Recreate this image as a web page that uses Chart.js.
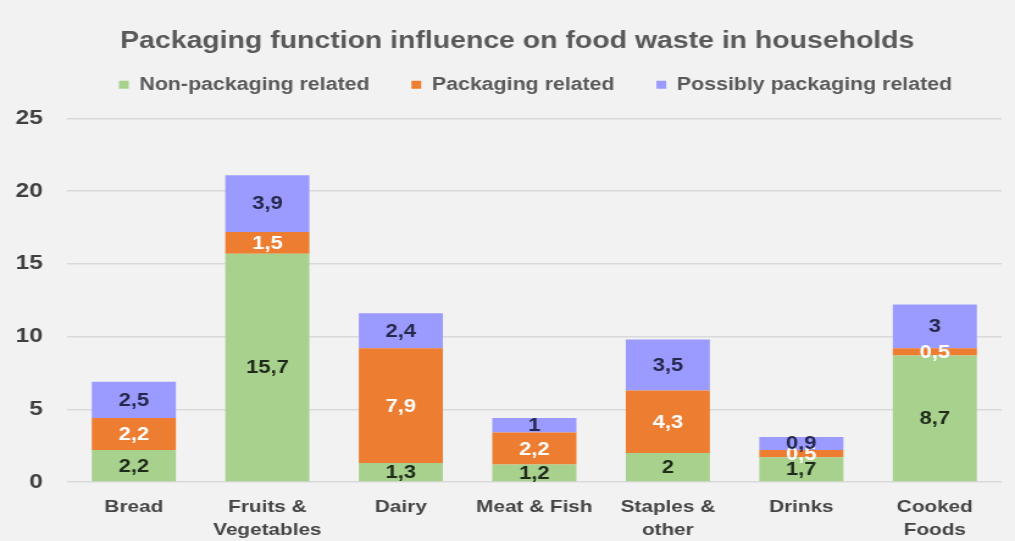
<!DOCTYPE html>
<html>
<head>
<meta charset="utf-8">
<script src="https://cdn.jsdelivr.net/npm/chart.js@4/dist/chart.umd.min.js"></script>
<style>
html,body{margin:0;padding:0;background:#f2f2f2;overflow:hidden;}
#wrap{width:832px;height:541px;transform:scaleX(1.21995);transform-origin:0 0;}
canvas{display:block;}
</style>
</head>
<body>
<div id="wrap"><canvas id="c" width="832" height="541"></canvas></div>
<script>
const categories = [["Bread"], ["Fruits &", "Vegetables"], ["Dairy"], ["Meat & Fish"], ["Staples &", "other"], ["Drinks"], ["Cooked", "Foods"]];
const nonPackaging = [2.2, 15.7, 1.3, 1.2, 2, 1.7, 8.7];
const packaging = [2.2, 1.5, 7.9, 2.2, 4.3, 0.5, 0.5];
const possiblyPackaging = [2.5, 3.9, 2.4, 1, 3.5, 0.9, 3];
const seriesNames = ["Non-packaging related", "Packaging related", "Possibly packaging related"];
const yTicks = [0, 5, 10, 15, 20, 25];

const FONT = "'Liberation Sans', Arial, sans-serif";
const labelColors = ["#1e2a1a", "#ffffff", "#25284a"];

const valueLabels = {
  id: 'valueLabels',
  afterDatasetsDraw(chart) {
    const ctx = chart.ctx;
    ctx.save();
    ctx.font = "bold 18px " + FONT;
    ctx.textAlign = 'center';
    ctx.textBaseline = 'middle';
    chart.data.datasets.forEach((ds, i) => {
      const meta = chart.getDatasetMeta(i);
      meta.data.forEach((el, j) => {
        const v = ds.data[j];
        const y = (el.y + el.base) / 2;
        ctx.fillStyle = labelColors[i];
        ctx.fillText(String(v).replace('.', ','), el.x, y + 1);
      });
    });
    ctx.restore();
  }
};

const headerShift = {
  id: 'headerShift',
  afterLayout(chart) {
    if (chart.titleBlock) { chart.titleBlock.left += 7; chart.titleBlock.right += 7; }
    if (chart.legend) { chart.legend.left += 22; chart.legend.right += 22; }
  }
};

new Chart(document.getElementById('c'), {
  type: 'bar',
  data: {
    labels: categories,
    datasets: [
      { label: seriesNames[0], data: nonPackaging, backgroundColor: '#a9d18e' },
      { label: seriesNames[1], data: packaging, backgroundColor: '#ed7d31' },
      { label: seriesNames[2], data: possiblyPackaging, backgroundColor: '#9b9bff' }
    ]
  },
  options: {
    responsive: false,
    animation: false,
    layout: { padding: { left: 13, right: 11, top: 28, bottom: 0 } },
    datasets: { bar: { categoryPercentage: 1, barPercentage: 0.63 } },
    scales: {
      x: {
        stacked: true,
        grid: { display: false, drawTicks: false },
        border: { display: false },
        ticks: { color: '#454545', font: { family: FONT, size: 17, weight: 'bold', lineHeight: 1.35 }, padding: 13.5, maxRotation: 0 },
        afterFit(axis) { axis.height = 59; }
      },
      y: {
        stacked: true,
        min: 0, max: 25,
        afterBuildTicks(axis) { axis.ticks = yTicks.map(v => ({ value: v })); },
        grid: { color: '#d9d9d9', lineWidth: 1.5, drawTicks: false },
        border: { display: false },
        ticks: { color: '#404040', font: { family: FONT, size: 20, weight: 'bold' }, padding: 20 },
        afterFit(axis) { axis.width = 42; }
      }
    },
    plugins: {
      title: {
        display: true,
        text: 'Packaging function influence on food waste in households',
        color: '#595959',
        font: { family: FONT, size: 23.3, weight: 'bold' },
        padding: { top: 0, bottom: 10 }
      },
      subtitle: {
        display: true,
        text: '',
        weight: 500,
        font: { size: 1, lineHeight: 1 },
        padding: { top: 0, bottom: 14 }
      },
      legend: {
        position: 'top',
        labels: {
          color: '#595959',
          font: { family: FONT, size: 17.5, weight: 'bold' },
          boxWidth: 8, boxHeight: 8,
          padding: 10,
          generateLabels(chart) {
            const items = Chart.defaults.plugins.legend.labels.generateLabels(chart);
            items.forEach((it, i) => { if (i < items.length - 1) it.text = it.text + '     '; });
            return items;
          }
        }
      },
      tooltip: { enabled: false }
    }
  },
  plugins: [valueLabels, headerShift]
});
</script>
</body>
</html>
